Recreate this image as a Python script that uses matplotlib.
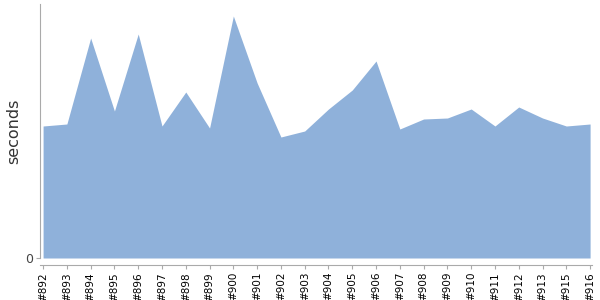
import numpy as np
import matplotlib.pyplot as plt

builds = ['#892', '#893', '#894', '#895', '#896', '#897', '#898', '#899',
          '#900', '#901', '#902', '#903', '#904', '#905', '#906', '#907',
          '#908', '#909', '#910', '#911', '#912', '#913', '#915', '#916']
seconds = [132, 134, 220, 147, 224, 132, 166, 130,
           242, 175, 121, 127, 149, 168, 197, 129,
           139, 140, 149, 132, 151, 140, 132, 134]

fig = plt.figure(figsize=(6, 3), dpi=100)
ax = fig.add_axes([40 / 600, 42 / 300, 552 / 600, 254 / 300])

# spine offset first: set_position resets the tick label styling
for s in ['top', 'right']:
    ax.spines[s].set_visible(False)
for s in ['left', 'bottom']:
    ax.spines[s].set_color('#aaaaaa')
ax.spines['bottom'].set_position(('outward', 5))

x = np.arange(len(builds))
ax.fill_between(x, 0, seconds, color='#8fb1da', linewidth=0)

ax.set_xlim(-0.13, len(builds) - 1 + 0.08)
ax.set_ylim(0, 254)
ax.set_xticks(x)
ax.set_xticklabels(builds, rotation=90, fontsize=7.5)
ax.set_yticks([0])
ax.set_yticklabels(['0'], fontsize=9, color='#444444')
ax.set_ylabel('seconds', fontsize=11.5, color='#333333', labelpad=3)
ax.tick_params(axis='both', color='#aaaaaa', length=3, pad=2)

fig.savefig('out.png', dpi=100)
